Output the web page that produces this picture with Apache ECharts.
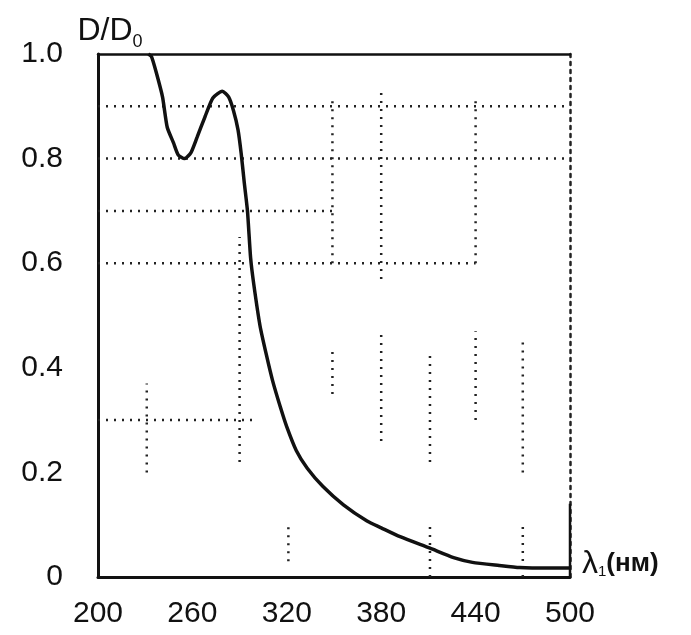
<!DOCTYPE html>
<html>
<head>
<meta charset="utf-8">
<script src="https://cdn.jsdelivr.net/npm/echarts@6/dist/echarts.min.js"></script>
<style>
html,body{margin:0;padding:0;background:#fff;}
#chart{width:691px;height:635px;}
</style>
</head>
<body>
<div id="chart"></div>
<script>
// Curve D/D0 versus wavelength (nm)
const lambda = [232, 234, 237, 241, 244, 248, 251, 255, 259, 263, 268, 273, 279, 283, 286, 289, 291, 293, 295, 297, 299, 303, 307, 311, 316, 320, 326, 333, 343, 356, 371, 380, 392, 411, 426, 438, 455, 468, 487, 500];
const ratio  = [1.0, 0.995, 0.965, 0.918, 0.86, 0.83, 0.807, 0.80, 0.811, 0.841, 0.88, 0.916, 0.929, 0.918, 0.893, 0.855, 0.81, 0.753, 0.70, 0.61, 0.56, 0.48, 0.425, 0.375, 0.324, 0.287, 0.242, 0.208, 0.173, 0.138, 0.107, 0.094, 0.077, 0.055, 0.037, 0.028, 0.022, 0.018, 0.017, 0.017];

const xTicks = [200, 260, 320, 380, 440, 500];
const yTicks = [0, 0.2, 0.4, 0.6, 0.8, 1.0];

// Dotted graph-paper lines visible in the scan: [level, from, to]
const hDots = [[0.9, 200, 500], [0.8, 200, 500], [0.7, 200, 350], [0.6, 200, 440], [0.3, 200, 300]];
const vDots = [[231, 0.2, 0.37], [290, 0.22, 0.65], [321, 0.03, 0.1], [349, 0.6, 0.92], [349, 0.35, 0.43],
               [380, 0.57, 0.93], [380, 0.26, 0.47], [411, 0.22, 0.43], [411, 0, 0.1],
               [440, 0.6, 0.92], [440, 0.3, 0.47], [470, 0.2, 0.45], [470, 0, 0.1]];
const rightSolid = [[500, 0], [500, 0.14]];

const chart = echarts.init(document.getElementById('chart'), null, {renderer: 'canvas'});
const ink = '#111';
const font = 'Liberation Sans, Arial, sans-serif';

const dotStyle = {type: [2, 6], width: 2.5, color: '#222'};
const series = [];
hDots.forEach(function (d) {
  series.push({type: 'line', data: [[d[1], d[0]], [d[2], d[0]]], symbol: 'none', silent: true, z: 1, lineStyle: dotStyle});
});
vDots.forEach(function (d) {
  series.push({type: 'line', data: [[d[0], d[1]], [d[0], d[2]]], symbol: 'none', silent: true, z: 1, lineStyle: dotStyle});
});
series.push({type: 'line', data: rightSolid, symbol: 'none', silent: true, z: 2, lineStyle: {width: 2.5, color: ink}});
series.push({
  type: 'line',
  data: lambda.map(function (x, i) { return [x, ratio[i]]; }),
  smooth: 0.2,
  symbol: 'none',
  z: 5,
  lineStyle: {width: 3.5, color: ink}
});

chart.setOption({
  backgroundColor: '#fff',
  animation: false,
  grid: {left: 98, right: 121, top: 54, bottom: 58, containLabel: false},
  xAxis: [{
    type: 'value', min: 200, max: 500, position: 'bottom',
    axisLine: {show: true, onZero: false, lineStyle: {color: ink, width: 3}},
    axisTick: {show: false},
    splitLine: {show: false},
    axisLabel: {customValues: xTicks, margin: 22, fontSize: 30, color: ink, fontFamily: font},
    name: '{a|λ}{s|1}{b|(нм)}',
    nameLocation: 'end', nameGap: 12,
    nameTextStyle: {
      verticalAlign: 'bottom', padding: [0, 0, -2, 0],
      rich: {
        a: {fontSize: 32, fontFamily: font, color: ink, lineHeight: 30, verticalAlign: 'middle'},
        s: {fontSize: 15, fontFamily: font, color: ink, lineHeight: 14, verticalAlign: 'bottom'},
        b: {fontSize: 26, fontWeight: 'bold', fontFamily: font, color: ink, lineHeight: 30, verticalAlign: 'middle'}
      }
    }
  }, {
    type: 'value', min: 200, max: 500, position: 'top',
    axisLine: {show: true, onZero: false, lineStyle: {color: ink, width: 2.5}},
    axisTick: {show: false}, axisLabel: {show: false}, splitLine: {show: false}
  }],
  yAxis: [{
    type: 'value', min: 0, max: 1, interval: 0.2, position: 'left',
    axisLine: {show: true, onZero: false, lineStyle: {color: ink, width: 3}},
    axisTick: {show: false},
    splitLine: {show: false},
    axisLabel: {
      margin: 35, fontSize: 30, color: ink, fontFamily: font,
      customValues: yTicks,
      formatter: function (v) { return v === 0 ? '0' : v.toFixed(1); }
    },
    name: '{a|D/D}{b|0}',
    nameLocation: 'end', nameGap: 3,
    nameTextStyle: {
      align: 'center', padding: [0, 0, 0, 24],
      rich: {
        a: {fontSize: 32, fontFamily: font, color: ink, lineHeight: 36, verticalAlign: 'top'},
        b: {fontSize: 18, fontFamily: font, color: ink, lineHeight: 14, verticalAlign: 'bottom'}
      }
    }
  }, {
    type: 'value', min: 0, max: 1, position: 'right',
    axisLine: {show: true, onZero: false, lineStyle: {color: '#222', width: 2.5, type: [3, 5]}},
    axisTick: {show: false}, axisLabel: {show: false}, splitLine: {show: false}
  }],
  series: series
});
</script>
</body>
</html>
